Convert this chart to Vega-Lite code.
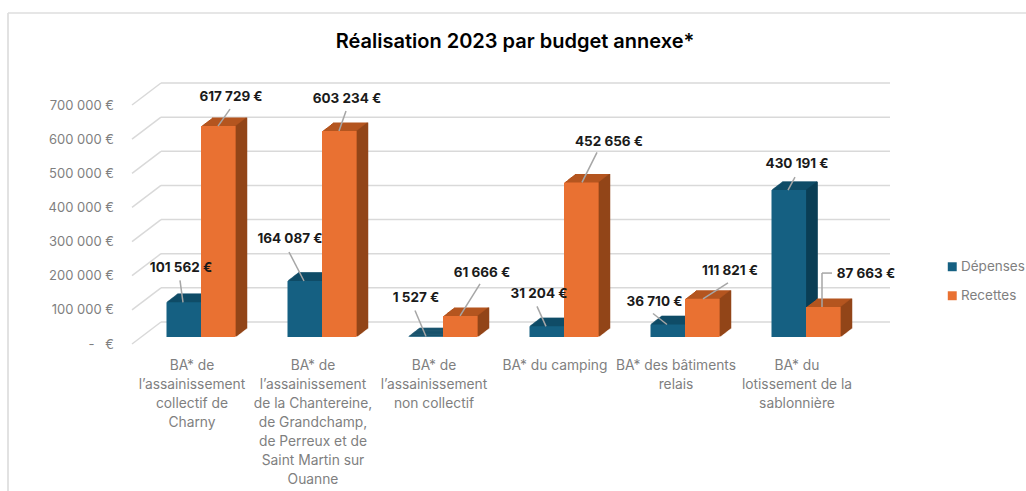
{"$schema":"https://vega.github.io/schema/vega-lite/v6.json","width":726,"height":239,"autosize":{"type":"none"},"padding":{"left":140.5,"top":98,"right":159.5,"bottom":154},"background":"white",
"title":{"text":"Réalisation 2023 par budget annexe*","anchor":"middle","dx":11.5,"offset":-40,"fontSize":20,"fontWeight":600,"font":"Inter","color":"#000000"},
"config":{"view":{"stroke":null}},
"datasets":{"bars":[
{"cat":"BA* de|l’assainissement|collectif de|Charny","serie":"Dépenses","v":101562,"label":"101 562 €"},
{"cat":"BA* de|l’assainissement|collectif de|Charny","serie":"Recettes","v":617729,"label":"617 729 €"},
{"cat":"BA* de|l’assainissement|de la Chantereine,|de Grandchamp,|de Perreux et de|Saint Martin sur|Ouanne","serie":"Dépenses","v":164087,"label":"164 087 €"},
{"cat":"BA* de|l’assainissement|de la Chantereine,|de Grandchamp,|de Perreux et de|Saint Martin sur|Ouanne","serie":"Recettes","v":603234,"label":"603 234 €"},
{"cat":"BA* de|l’assainissement|non collectif","serie":"Dépenses","v":1527,"label":"1 527 €"},
{"cat":"BA* de|l’assainissement|non collectif","serie":"Recettes","v":61666,"label":"61 666 €"},
{"cat":"BA* du camping","serie":"Dépenses","v":31204,"label":"31 204 €"},
{"cat":"BA* du camping","serie":"Recettes","v":452656,"label":"452 656 €"},
{"cat":"BA* des bâtiments|relais","serie":"Dépenses","v":36710,"label":"36 710 €"},
{"cat":"BA* des bâtiments|relais","serie":"Recettes","v":111821,"label":"111 821 €"},
{"cat":"BA* du|lotissement de la|sablonnière","serie":"Dépenses","v":430191,"label":"430 191 €"},
{"cat":"BA* du|lotissement de la|sablonnière","serie":"Recettes","v":87663,"label":"87 663 €"}],
"grid":[{"t":0},{"t":100000},{"t":200000},{"t":300000},{"t":400000},{"t":500000},{"t":600000},{"t":700000}]},
"layer":[
{"data":{"values":[{"f":1}]},"mark":{"type":"rule","color":"#d9d9d9","strokeWidth":1.5},"encoding":{"x":{"value":-132.5},"y":{"value":-85},"y2":{"value":393}}},
{"data":{"values":[{"f":1}]},"mark":{"type":"rule","color":"#dedede","strokeWidth":1.5},"encoding":{"x":{"value":-132.5},"x2":{"value":886},"y":{"value":-85}}},
{"data":{"name":"grid"},"encoding":{"y":{"field":"t","type":"quantitative","scale":{"domain":[0,700000],"nice":false},"axis":{"title":null,"grid":false,"ticks":false,"domain":false,"values":[0,100000,200000,300000,400000,500000,600000,700000],"labelExpr":"datum.value==0?'-\u00a0\u00a0\u00a0€':replace(format(datum.value,','),/,/g,' ')+' €'","labelColor":"#7f7f7f","labelFontSize":13,"labelFont":"Inter","labelOffset":7,"labelPadding":27,"labelOverlap":false,"labelBound":false}}},
"layer":[
{"mark":{"type":"rule","color":"#d9d9d9","strokeWidth":1.5,"yOffset":-15},"encoding":{"x":{"value":20.5},"x2":{"value":749.5}}},
{"mark":{"type":"rule","color":"#d9d9d9","strokeWidth":1.5,"yOffset":7,"y2Offset":-15},"encoding":{"x":{"value":-8.5},"x2":{"value":20.5},"y2":{"field":"t"}}}
]},
{"data":{"name":"bars"},"encoding":{
"x":{"field":"cat","type":"nominal","sort":null,"scale":{"padding":0},"axis":{"title":null,"ticks":false,"domain":false,"labelAngle":0,"labelExpr":"split(datum.label,'|')","labelColor":"#7f7f7f","labelFontSize":13.8,"labelFont":"Inter","labelLineHeight":19,"labelOffset":-9,"labelPadding":21,"labelLimit":0,"labelOverlap":false,"labelBound":false,"labelBaseline":"top"}},
"y":{"field":"v","type":"quantitative","scale":{"domain":[0,700000],"nice":false},"axis":{"title":null,"grid":false,"ticks":false,"domain":false,"values":[0,100000,200000,300000,400000,500000,600000,700000],"labelExpr":"datum.value==0?'-\u00a0\u00a0\u00a0€':replace(format(datum.value,','),/,/g,' ')+' €'","labelColor":"#7f7f7f","labelFontSize":13,"labelFont":"Inter","labelOffset":7,"labelPadding":27,"labelOverlap":false,"labelBound":false}}},
"layer":[
{"transform":[{"filter":"datum.serie=='Dépenses'"}],
"encoding":{"y2":{"datum":0}},
"layer":[
{"mark":{"type":"bar","width":34.5,"color":"#0F4C67","stroke":"#0F4C67","strokeWidth":0.6,"xOffset":-16.25,"yOffset":-0.77,"y2Offset":-0.77}},
{"mark":{"type":"bar","width":34.5,"color":"#0F4C67","stroke":"#0F4C67","strokeWidth":0.6,"xOffset":-15.25,"yOffset":-1.54,"y2Offset":-1.54}},
{"mark":{"type":"bar","width":34.5,"color":"#0F4C67","stroke":"#0F4C67","strokeWidth":0.6,"xOffset":-14.25,"yOffset":-2.31,"y2Offset":-2.31}},
{"mark":{"type":"bar","width":34.5,"color":"#0F4C67","stroke":"#0F4C67","strokeWidth":0.6,"xOffset":-13.25,"yOffset":-3.08,"y2Offset":-3.08}},
{"mark":{"type":"bar","width":34.5,"color":"#0F4C67","stroke":"#0F4C67","strokeWidth":0.6,"xOffset":-12.25,"yOffset":-3.85,"y2Offset":-3.85}},
{"mark":{"type":"bar","width":34.5,"color":"#0F4C67","stroke":"#0F4C67","strokeWidth":0.6,"xOffset":-11.25,"yOffset":-4.62,"y2Offset":-4.62}},
{"mark":{"type":"bar","width":34.5,"color":"#0F4C67","stroke":"#0F4C67","strokeWidth":0.6,"xOffset":-10.25,"yOffset":-5.39,"y2Offset":-5.39}},
{"mark":{"type":"bar","width":34.5,"color":"#0F4C67","stroke":"#0F4C67","strokeWidth":0.6,"xOffset":-9.25,"yOffset":-6.16,"y2Offset":-6.16}},
{"mark":{"type":"bar","width":34.5,"color":"#0F4C67","stroke":"#0F4C67","strokeWidth":0.6,"xOffset":-8.25,"yOffset":-6.93,"y2Offset":-6.93}},
{"mark":{"type":"bar","width":34.5,"color":"#0F4C67","stroke":"#0F4C67","strokeWidth":0.6,"xOffset":-7.25,"yOffset":-7.7,"y2Offset":-7.7}},
{"mark":{"type":"bar","width":34.5,"color":"#0F4C67","stroke":"#0F4C67","strokeWidth":0.6,"xOffset":-6.25,"yOffset":-8.47,"y2Offset":-8.47}},
{"mark":{"type":"rule","color":"#0B3E55","strokeWidth":1.5,"xOffset":1,"yOffset":-0.77,"y2Offset":-0.77}},
{"mark":{"type":"rule","color":"#0B3E55","strokeWidth":1.5,"xOffset":2,"yOffset":-1.54,"y2Offset":-1.54}},
{"mark":{"type":"rule","color":"#0B3E55","strokeWidth":1.5,"xOffset":3,"yOffset":-2.31,"y2Offset":-2.31}},
{"mark":{"type":"rule","color":"#0B3E55","strokeWidth":1.5,"xOffset":4,"yOffset":-3.08,"y2Offset":-3.08}},
{"mark":{"type":"rule","color":"#0B3E55","strokeWidth":1.5,"xOffset":5,"yOffset":-3.85,"y2Offset":-3.85}},
{"mark":{"type":"rule","color":"#0B3E55","strokeWidth":1.5,"xOffset":6,"yOffset":-4.62,"y2Offset":-4.62}},
{"mark":{"type":"rule","color":"#0B3E55","strokeWidth":1.5,"xOffset":7,"yOffset":-5.39,"y2Offset":-5.39}},
{"mark":{"type":"rule","color":"#0B3E55","strokeWidth":1.5,"xOffset":8,"yOffset":-6.16,"y2Offset":-6.16}},
{"mark":{"type":"rule","color":"#0B3E55","strokeWidth":1.5,"xOffset":9,"yOffset":-6.93,"y2Offset":-6.93}},
{"mark":{"type":"rule","color":"#0B3E55","strokeWidth":1.5,"xOffset":10,"yOffset":-7.7,"y2Offset":-7.7}},
{"mark":{"type":"rule","color":"#0B3E55","strokeWidth":1.5,"xOffset":11,"yOffset":-8.47,"y2Offset":-8.47}},
{"mark":{"type":"bar","width":34.5,"xOffset":-17.25},"encoding":{"color":{"field":"serie","type":"nominal","scale":{"domain":["Dépenses","Recettes"],"range":["#156082","#E97132"]},"legend":{"title":null,"orient":"none","legendX":805,"legendY":162,"symbolType":"square","symbolSize":80,"labelColor":"#7f7f7f","labelFontSize":13.5,"labelFont":"Inter","rowPadding":14,"labelOffset":2}}}}
]},
{"transform":[{"filter":"datum.serie=='Recettes'"}],
"encoding":{"y2":{"datum":0}},
"layer":[
{"mark":{"type":"bar","width":34.5,"color":"#B4551F","xOffset":18.25,"yOffset":-0.77,"y2Offset":-0.77}},
{"mark":{"type":"bar","width":34.5,"color":"#B4551F","xOffset":19.25,"yOffset":-1.54,"y2Offset":-1.54}},
{"mark":{"type":"bar","width":34.5,"color":"#B4551F","xOffset":20.25,"yOffset":-2.31,"y2Offset":-2.31}},
{"mark":{"type":"bar","width":34.5,"color":"#B4551F","xOffset":21.25,"yOffset":-3.08,"y2Offset":-3.08}},
{"mark":{"type":"bar","width":34.5,"color":"#B4551F","xOffset":22.25,"yOffset":-3.85,"y2Offset":-3.85}},
{"mark":{"type":"bar","width":34.5,"color":"#B4551F","xOffset":23.25,"yOffset":-4.62,"y2Offset":-4.62}},
{"mark":{"type":"bar","width":34.5,"color":"#B4551F","xOffset":24.25,"yOffset":-5.39,"y2Offset":-5.39}},
{"mark":{"type":"bar","width":34.5,"color":"#B4551F","xOffset":25.25,"yOffset":-6.16,"y2Offset":-6.16}},
{"mark":{"type":"bar","width":34.5,"color":"#B4551F","xOffset":26.25,"yOffset":-6.93,"y2Offset":-6.93}},
{"mark":{"type":"bar","width":34.5,"color":"#B4551F","xOffset":27.25,"yOffset":-7.7,"y2Offset":-7.7}},
{"mark":{"type":"bar","width":34.5,"color":"#B4551F","xOffset":28.25,"yOffset":-8.47,"y2Offset":-8.47}},
{"mark":{"type":"rule","color":"#924519","strokeWidth":1.5,"xOffset":35.5,"yOffset":-0.77,"y2Offset":-0.77}},
{"mark":{"type":"rule","color":"#924519","strokeWidth":1.5,"xOffset":36.5,"yOffset":-1.54,"y2Offset":-1.54}},
{"mark":{"type":"rule","color":"#924519","strokeWidth":1.5,"xOffset":37.5,"yOffset":-2.31,"y2Offset":-2.31}},
{"mark":{"type":"rule","color":"#924519","strokeWidth":1.5,"xOffset":38.5,"yOffset":-3.08,"y2Offset":-3.08}},
{"mark":{"type":"rule","color":"#924519","strokeWidth":1.5,"xOffset":39.5,"yOffset":-3.85,"y2Offset":-3.85}},
{"mark":{"type":"rule","color":"#924519","strokeWidth":1.5,"xOffset":40.5,"yOffset":-4.62,"y2Offset":-4.62}},
{"mark":{"type":"rule","color":"#924519","strokeWidth":1.5,"xOffset":41.5,"yOffset":-5.39,"y2Offset":-5.39}},
{"mark":{"type":"rule","color":"#924519","strokeWidth":1.5,"xOffset":42.5,"yOffset":-6.16,"y2Offset":-6.16}},
{"mark":{"type":"rule","color":"#924519","strokeWidth":1.5,"xOffset":43.5,"yOffset":-6.93,"y2Offset":-6.93}},
{"mark":{"type":"rule","color":"#924519","strokeWidth":1.5,"xOffset":44.5,"yOffset":-7.7,"y2Offset":-7.7}},
{"mark":{"type":"rule","color":"#924519","strokeWidth":1.5,"xOffset":45.5,"yOffset":-8.47,"y2Offset":-8.47}},
{"mark":{"type":"bar","width":34.5,"xOffset":17.25},"encoding":{"color":{"field":"serie","type":"nominal","scale":{"domain":["Dépenses","Recettes"],"range":["#156082","#E97132"]}}}}
]},
{"encoding":{"x2":{"field":"cat"},"y2":{"field":"v"}},"layer":[
{"transform":[{"filter":"datum.v==617729"}],"mark":{"type":"rule","color":"#a6a6a6","strokeWidth":1.5,"xOffset":17,"x2Offset":29,"y2Offset":-17}},
{"transform":[{"filter":"datum.v==603234"}],"mark":{"type":"rule","color":"#a6a6a6","strokeWidth":1.5,"xOffset":17,"x2Offset":24,"y2Offset":-20}},
{"transform":[{"filter":"datum.v==101562"}],"mark":{"type":"rule","color":"#a6a6a6","strokeWidth":1.5,"xOffset":-18,"x2Offset":-21,"y2Offset":-22}},
{"transform":[{"filter":"datum.v==164087"}],"mark":{"type":"rule","color":"#a6a6a6","strokeWidth":1.5,"xOffset":-18,"x2Offset":-33,"y2Offset":-29}},
{"transform":[{"filter":"datum.v==1527"}],"mark":{"type":"rule","color":"#a6a6a6","strokeWidth":1.5,"xOffset":-17,"x2Offset":-28,"y2Offset":-26}},
{"transform":[{"filter":"datum.v==61666"}],"mark":{"type":"rule","color":"#a6a6a6","strokeWidth":1.5,"xOffset":17,"x2Offset":37,"y2Offset":-32}},
{"transform":[{"filter":"datum.v==31204"}],"mark":{"type":"rule","color":"#a6a6a6","strokeWidth":1.5,"xOffset":-18,"x2Offset":-27,"y2Offset":-20}},
{"transform":[{"filter":"datum.v==452656"}],"mark":{"type":"rule","color":"#a6a6a6","strokeWidth":1.5,"xOffset":18,"x2Offset":33,"y2Offset":-30}},
{"transform":[{"filter":"datum.v==36710"}],"mark":{"type":"rule","color":"#a6a6a6","strokeWidth":1.5,"xOffset":-18,"x2Offset":-32,"y2Offset":-11}},
{"transform":[{"filter":"datum.v==111821"}],"mark":{"type":"rule","color":"#a6a6a6","strokeWidth":1.5,"xOffset":18,"x2Offset":43,"y2Offset":-16}},
{"transform":[{"filter":"datum.v==430191"}],"mark":{"type":"rule","color":"#a6a6a6","strokeWidth":1.5,"xOffset":-18,"x2Offset":-11,"y2Offset":-13}},
{"transform":[{"filter":"datum.v==87663"}],"mark":{"type":"rule","color":"#a6a6a6","strokeWidth":1.5,"xOffset":16,"x2Offset":16,"y2Offset":-34}},
{"transform":[{"filter":"datum.v==87663"}],"mark":{"type":"rule","color":"#a6a6a6","strokeWidth":1.5,"xOffset":16,"x2Offset":26,"yOffset":-34,"y2Offset":-34}}
]},
{"encoding":{"text":{"field":"label"}},"layer":[
{"transform":[{"filter":"datum.v==617729"}],"mark":{"type":"text","dx":30,"dy":-29,"font":"Inter","fontWeight":"bold","fontSize":13.5,"color":"#1a1a1a"}},
{"transform":[{"filter":"datum.v==603234"}],"mark":{"type":"text","dx":25,"dy":-32,"font":"Inter","fontWeight":"bold","fontSize":13.5,"color":"#1a1a1a"}},
{"transform":[{"filter":"datum.v==101562"}],"mark":{"type":"text","dx":-20,"dy":-34,"font":"Inter","fontWeight":"bold","fontSize":13.5,"color":"#1a1a1a"}},
{"transform":[{"filter":"datum.v==164087"}],"mark":{"type":"text","dx":-32,"dy":-42,"font":"Inter","fontWeight":"bold","fontSize":13.5,"color":"#1a1a1a"}},
{"transform":[{"filter":"datum.v==1527"}],"mark":{"type":"text","dx":-27,"dy":-38,"font":"Inter","fontWeight":"bold","fontSize":13.5,"color":"#1a1a1a"}},
{"transform":[{"filter":"datum.v==61666"}],"mark":{"type":"text","dx":39,"dy":-43,"font":"Inter","fontWeight":"bold","fontSize":13.5,"color":"#1a1a1a"}},
{"transform":[{"filter":"datum.v==31204"}],"mark":{"type":"text","dx":-25,"dy":-32,"font":"Inter","fontWeight":"bold","fontSize":13.5,"color":"#1a1a1a"}},
{"transform":[{"filter":"datum.v==452656"}],"mark":{"type":"text","dx":45,"dy":-40,"font":"Inter","fontWeight":"bold","fontSize":13.5,"color":"#1a1a1a"}},
{"transform":[{"filter":"datum.v==36710"}],"mark":{"type":"text","dx":-30.5,"dy":-22,"font":"Inter","fontWeight":"bold","fontSize":13.5,"color":"#1a1a1a"}},
{"transform":[{"filter":"datum.v==111821"}],"mark":{"type":"text","dx":45,"dy":-28,"font":"Inter","fontWeight":"bold","fontSize":13.5,"color":"#1a1a1a"}},
{"transform":[{"filter":"datum.v==430191"}],"mark":{"type":"text","dx":-9,"dy":-26,"font":"Inter","fontWeight":"bold","fontSize":13.5,"color":"#1a1a1a"}},
{"transform":[{"filter":"datum.v==87663"}],"mark":{"type":"text","dx":60,"dy":-33,"font":"Inter","fontWeight":"bold","fontSize":13.5,"color":"#1a1a1a"}}
]}
]}
]}
